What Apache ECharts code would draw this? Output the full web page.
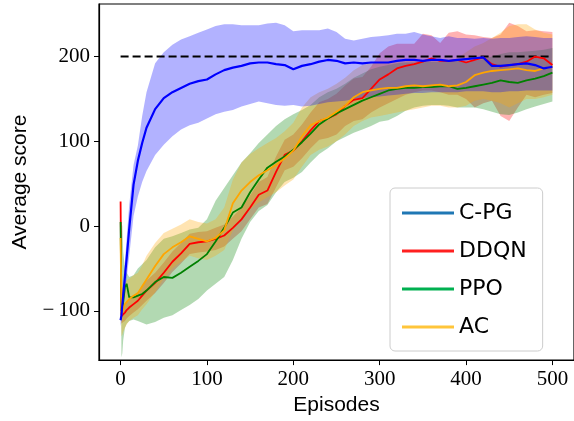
<!DOCTYPE html>
<html>
<head>
<meta charset="utf-8">
<script src="https://cdn.jsdelivr.net/npm/echarts@6/dist/echarts.min.js"></script>
<style>
  html, body { margin: 0; padding: 0; background: #fff; }
  #chart { width: 574px; height: 421px; }
</style>
</head>
<body>
<div id="chart"></div>
<script>
// episode grid shared by every series
const episodes = [0, 1, 2, 3, 5, 7, 10, 15, 20, 25, 30,
  40, 50, 60, 70, 80, 90, 100, 110, 120, 130, 140, 150, 160, 170, 180, 190, 200,
  210, 220, 230, 240, 250, 260, 270, 280, 290, 300, 310, 320, 330, 340, 350, 360,
  370, 380, 390, 400, 410, 420, 430, 440, 450, 460, 470, 480, 490, 500];

// C-PG
const cpgMean = [-111, -105, -93, -82, -60, -38, -3, 49, 77, 98, 116,
  138, 151, 158, 163, 168, 171, 173, 179, 184, 187, 189, 192, 193, 193, 191, 190, 185,
  189, 191, 194, 196, 195, 192, 193, 192, 193, 193, 193, 195, 196, 196, 195, 196,
  196, 195, 196, 197, 198, 199, 189, 189, 190, 191, 192, 190, 186, 188];
const cpgLow = [-118, -112, -104, -96, -80, -62, -35, 12, 35, 52, 65,
  84, 96, 106, 114, 119, 122, 127, 132, 135, 137, 141, 144, 147, 145, 143, 142, 143,
  141, 142, 144, 146, 147, 148, 150, 151, 152, 153, 154, 155, 156, 157, 157, 158,
  158, 158, 158, 159, 159, 159, 158, 158, 159, 159, 160, 160, 160, 160];
const cpgHigh = [-105, -95, -82, -68, -42, -15, 25, 72, 95, 130, 158,
  192, 205, 214, 220, 224, 228, 232, 236, 238, 238, 237, 237, 237, 239, 240, 237, 230,
  231, 231, 231, 233, 229, 221, 219, 221, 223, 224, 225, 227, 227, 229, 226, 224,
  222, 224, 222, 222, 221, 222, 221, 222, 222, 223, 224, 223, 222, 222];

// DDQN
const ddqnMean = [29, -106, -105, -104, -102, -99, -96, -92, -88, -82, -76,
  -67, -55, -42, -32, -21, -19, -18, -15, -11, -2, 8, 22, 37, 42, 64, 84, 89,
  100, 113, 124, 127, 132, 142, 149, 151, 162, 173, 179, 186, 189, 191, 194, 198,
  195, 195, 196, 193, 196, 199, 191, 188, 190, 191, 194, 200, 198, 190];
const ddqnLow = [22, -115, -114, -113, -112, -109, -106, -102, -98, -93, -88,
  -79, -67, -54, -44, -33, -31, -30, -28, -24, -15, -6, 8, 22, 26, 46, 66, 70,
  80, 92, 102, 104, 108, 118, 124, 126, 134, 140, 145, 150, 155, 158, 160, 160,
  158, 155, 155, 150, 140, 145, 148, 130, 124, 140, 155, 152, 155, 157];
const ddqnHigh = [36, -97, -96, -95, -92, -89, -86, -82, -78, -71, -64,
  -55, -43, -30, -20, -9, -7, -6, -2, 2, 11, 22, 36, 52, 58, 82, 102, 108,
  120, 134, 146, 150, 156, 166, 174, 176, 188, 204, 212, 215, 215, 215, 227, 225,
  216, 228, 230, 226, 225, 223, 222, 226, 240, 236, 230, 231, 230, 229];

// PPO
const ppoMean = [5, -100, -98, -90, -72, -68, -84, -84, -82, -80, -76,
  -66, -60, -61, -55, -48, -41, -33, -18, -2, 16, 22, 40, 55, 69, 76, 82, 90,
  99, 109, 120, 127, 133, 138, 143, 148, 152, 156, 160, 162, 163, 163, 164, 164,
  165, 165, 162, 163, 165, 167, 169, 172, 170, 169, 172, 174, 177, 181];
const ppoLow = [0, -155, -150, -135, -120, -115, -112, -110, -112, -114, -116,
  -113, -108, -105, -99, -93, -86, -76, -68, -60, -40, -15, 5, 18, 25, 40, 52, 57,
  64, 75, 85, 92, 100, 105, 110, 114, 118, 123, 125, 130, 136, 140, 142, 143,
  143, 142, 140, 140, 140, 138, 135, 132, 131, 134, 138, 141, 144, 147];
const ppoHigh = [10, 5, 0, -30, -50, -55, -60, -58, -50, -45, -40,
  -25, -15, -12, -8, -4, -2, 8, 30, 45, 60, 75, 86, 98, 108, 118, 126, 132,
  137, 143, 152, 158, 162, 168, 175, 180, 185, 188, 190, 192, 193, 193, 194, 194,
  194, 195, 195, 194, 195, 197, 200, 203, 205, 205, 206, 207, 208, 210];

// AC
const acMean = [-14, -104, -100, -97, -92, -90, -86, -82, -79, -71, -63,
  -47, -33, -25, -19, -12, -15, -18, -14, -5, 27, 42, 52, 60, 66, 72, 80, 89,
  106, 119, 124, 128, 135, 142, 152, 158, 160, 162, 163, 163, 165, 166, 165, 166,
  167, 165, 166, 170, 178, 181, 183, 184, 185, 186, 184, 183, 186, 188];
const acLow = [-20, -130, -128, -125, -120, -116, -112, -108, -105, -98, -92,
  -78, -62, -50, -42, -35, -38, -40, -35, -28, -5, 10, 20, 28, 34, 40, 48, 55,
  70, 84, 90, 94, 100, 108, 118, 124, 128, 130, 132, 134, 136, 138, 140, 142,
  142, 140, 140, 142, 148, 150, 148, 145, 140, 145, 150, 150, 152, 155];
const acHigh = [-8, -80, -76, -72, -66, -64, -62, -58, -55, -46, -35,
  -20, -8, -3, 2, 8, 5, 3, 8, 22, 55, 75, 85, 92, 98, 104, 112, 122,
  140, 152, 158, 162, 168, 175, 184, 190, 192, 193, 194, 193, 195, 196, 195, 196,
  196, 195, 198, 205, 212, 216, 222, 228, 236, 238, 238, 232, 228, 226];

const targetScore = 200;
const xTicks = [0, 100, 200, 300, 400, 500];
const yTicks = [-100, 0, 100, 200];
const legendNames = ['C-PG', 'DDQN', 'PPO', 'AC'];
const legendColors = ['#1f77b4', '#ff2020', '#00b050', '#ffc53a'];

const zip = (ys) => episodes.map((x, i) => [x, ys[i]]);

function band(lo, hi, fill) {
  const data = episodes.map((x, i) => [x, lo[i], hi[i]]);
  return {
    type: 'custom',
    silent: true,
    data: data,
    encode: { x: 0, y: [1, 2] },
    renderItem: function (params, api) {
      if (params.dataIndex !== 0) return null;
      const top = data.map(d => api.coord([d[0], d[2]]));
      const bot = data.map(d => api.coord([d[0], d[1]])).reverse();
      return {
        type: 'polygon',
        shape: { points: top.concat(bot) },
        style: { fill: fill }
      };
    }
  };
}

function line(ys, color, width) {
  return {
    type: 'line',
    data: zip(ys),
    showSymbol: false,
    silent: true,
    lineStyle: { color: color, width: width },
    itemStyle: { color: color }
  };
}

// LaTeX-style minus sign
const minus = v => (v < 0 ? '\u2212\u2009' + Math.abs(v) : String(v));

const chart = echarts.init(document.getElementById('chart'), null, { renderer: 'canvas' });

const series = [
  {
    type: 'line',
    data: [[0, targetScore], [500, targetScore]],
    showSymbol: false,
    silent: true,
    lineStyle: { color: '#000', width: 2, type: [8, 4] }
  },
  band(ddqnLow, ddqnHigh, 'rgba(255,0,0,0.3)'),
  line(ddqnMean, '#ff0000', 1.8),
  band(ppoLow, ppoHigh, 'rgba(0,128,0,0.3)'),
  line(ppoMean, '#008000', 1.8),
  band(acLow, acHigh, 'rgba(255,165,0,0.3)'),
  line(acMean, '#ffa500', 1.8),
  band(cpgLow, cpgHigh, 'rgba(0,0,255,0.3)'),
  line(cpgMean, '#0000ff', 2.2)
];
// legend entries (custom colours, no data)
legendNames.forEach((n, i) => {
  series.push({ type: 'line', name: n, data: [], color: legendColors[i], lineStyle: { color: legendColors[i] } });
});

chart.setOption({
  animation: false,
  grid: {
    left: 99, top: 4, right: -5, bottom: 58,
    show: true, borderColor: '#000', borderWidth: 1.2
  },
  legend: {
    data: legendNames,
    orient: 'vertical',
    left: 390,
    top: 188,
    icon: 'rect',
    itemWidth: 52,
    itemHeight: 3,
    itemGap: 12,
    itemTextGap: 19,
    padding: [12, 16, 11, 12],
    backgroundColor: 'rgba(255,255,255,0.85)',
    borderColor: '#cccccc',
    borderWidth: 1,
    borderRadius: 5,
    textStyle: { fontFamily: 'DejaVu Sans', fontSize: 22, lineHeight: 26, color: '#000' }
  },
  xAxis: {
    type: 'value',
    min: -25,
    max: 525,
    name: 'Episodes',
    nameLocation: 'middle',
    nameGap: 34,
    nameTextStyle: { fontFamily: 'Liberation Sans', fontSize: 21, color: '#000' },
    splitLine: { show: false },
    axisLine: { onZero: false, lineStyle: { color: '#000', width: 1.2 } },
    axisTick: { length: 5, lineStyle: { color: '#000' }, customValues: xTicks },
    axisLabel: {
      customValues: xTicks,
      margin: 9,
      fontFamily: 'Liberation Serif',
      fontSize: 21,
      color: '#000',
      formatter: minus
    }
  },
  yAxis: {
    type: 'value',
    min: -158,
    max: 262,
    name: 'Average score',
    nameLocation: 'middle',
    nameGap: 68,
    nameTextStyle: { fontFamily: 'Liberation Sans', fontSize: 21, color: '#000' },
    splitLine: { show: false },
    axisLine: { onZero: false, lineStyle: { color: '#000', width: 1.2 } },
    axisTick: { length: 5, lineStyle: { color: '#000' }, customValues: yTicks },
    axisLabel: {
      customValues: yTicks,
      margin: 9,
      fontFamily: 'Liberation Serif',
      fontSize: 21,
      color: '#000',
      formatter: minus
    }
  },
  series: series
});
</script>
</body>
</html>
